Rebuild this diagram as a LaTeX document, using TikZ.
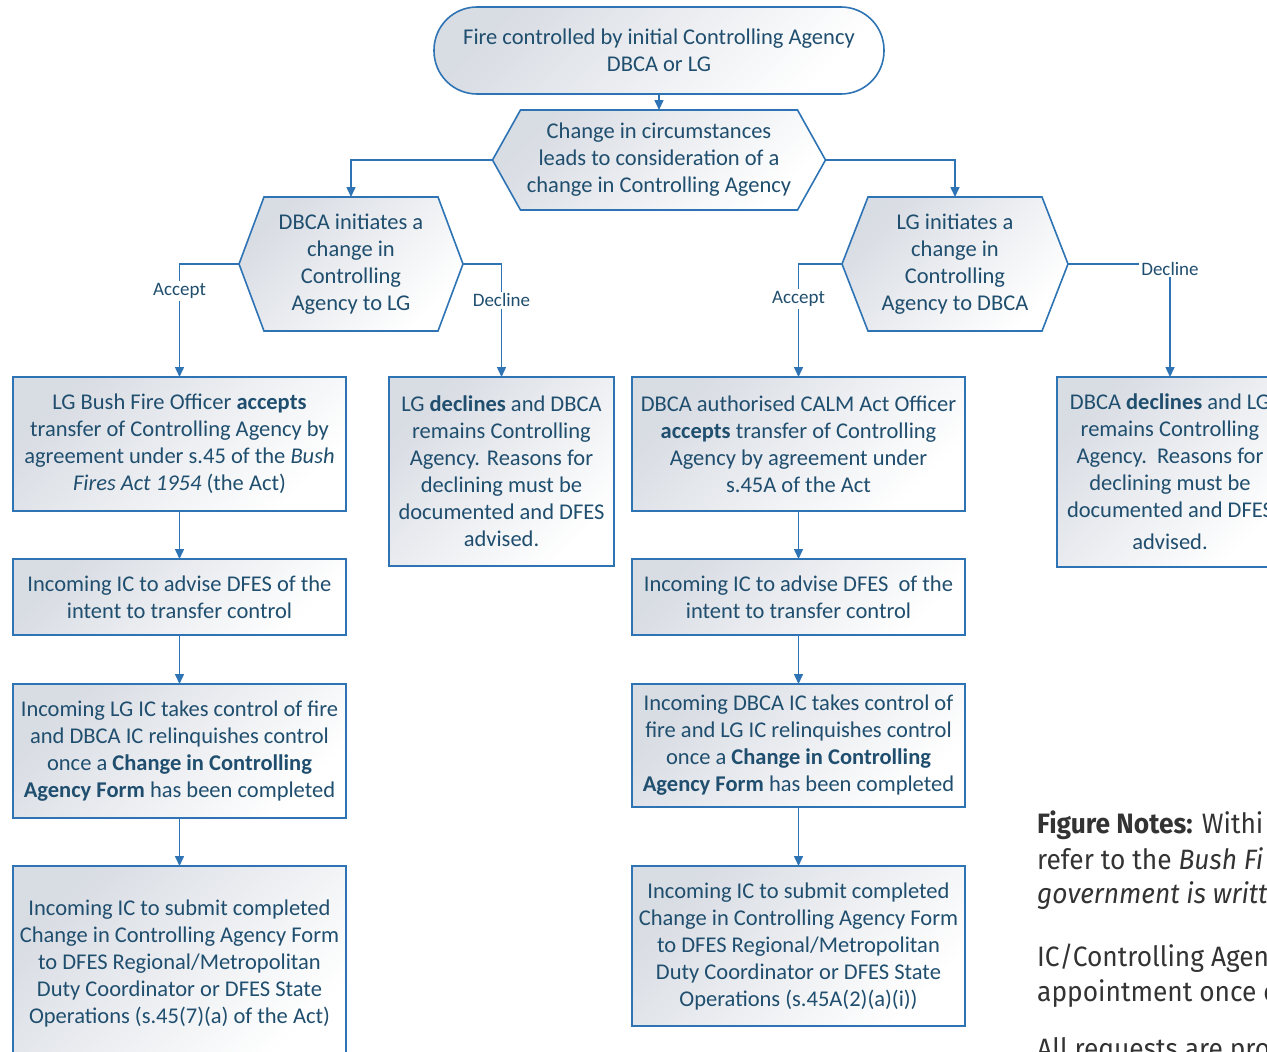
\documentclass[tikz,border=0pt]{standalone}
\usepackage{fontspec}
\setmainfont{Carlito}
\newfontfamily\notefont[FakeStretch=0.94]{Fira Sans}
\usetikzlibrary{arrows.meta,backgrounds}
\definecolor{bord}{HTML}{2E74B5}
\definecolor{txt}{HTML}{1F4E6E}
\definecolor{gradc}{HTML}{D8DCE3}
\definecolor{gradm}{HTML}{F3F4F7}
\definecolor{notec}{HTML}{333333}
\newcommand\hexbg[2]{\path[hexshape] ([xshift=#2]#1.north west) -- ([xshift=-#2]#1.north east) -- (#1.east) -- ([xshift=-#2]#1.south east) -- ([xshift=#2]#1.south west) -- (#1.west) -- cycle;}
\begin{document}
\begin{tikzpicture}[x=1pt,y=1pt,
 font=\fontsize{22.5}{27}\selectfont, text=txt,
 shd/.style={top color=gradc, middle color=gradm, bottom color=white, shading angle=45},
 box/.style={draw=bord, line width=1.6pt, shd, align=center, inner sep=0pt, outer sep=0pt},
 hexnode/.style={align=center, inner sep=0pt, outer sep=0pt},
 hexshape/.style={draw=bord, line width=1.6pt, shd, line join=miter},
 arr/.style={draw=bord, line width=1.5pt, -{Triangle[length=10pt,width=9pt]}},
 lbl/.style={fill=white, font=\fontsize{19}{21}\selectfont, inner sep=2pt},
 note/.style={font=\notefont\fontsize{28}{34}\selectfont, text=notec, inner sep=0pt, anchor=base west},
]
\useasboundingbox (0,0) rectangle (1267,-1052);
\clip (0,0) rectangle (1267,-1052);

\node[box, rounded corners=43pt, minimum width=450pt, minimum height=87pt] (term) at (659,-50.5) {Fire controlled by initial Controlling Agency\\DBCA or LG};
\node[hexnode, minimum width=333pt, minimum height=100pt] (h1) at (659,-160) {Change in circumstances\\leads to consideration of a\\change in Controlling Agency};
\node[hexnode, minimum width=224pt, minimum height=134pt] (h2) at (351,-264) {DBCA initiates a\\change in\\Controlling\\Agency to LG};
\node[hexnode, minimum width=226pt, minimum height=134pt] (h3) at (955,-264) {LG initiates a\\change in\\Controlling\\Agency to DBCA};
\begin{scope}[on background layer]
\fill[white] (0,0) rectangle (1267,-1052);
\hexbg{h1}{28}
\hexbg{h2}{25}
\hexbg{h3}{26}
\end{scope}

\node[box, minimum width=333pt, minimum height=134pt] (l1) at (179.5,-444) {LG Bush Fire Officer \textbf{accepts}\\transfer of Controlling Agency by\\agreement under s.45 of the \textit{Bush}\\\textit{Fires Act 1954} (the Act)};
\node[box, minimum width=333pt, minimum height=76pt] (l2) at (179.5,-597) {Incoming IC to advise DFES of the\\intent to transfer control};
\node[box, minimum width=333pt, minimum height=134pt] (l3) at (179.5,-751) {Incoming LG IC takes control of fire\\and DBCA IC relinquishes control\\once a \textbf{Change in Controlling}\\\textbf{Agency Form} has been completed};
\node[box, minimum width=333pt, minimum height=194pt] (l4) at (179.5,-963) {Incoming IC to submit completed\\Change in Controlling Agency Form\\to DFES Regional/Metropolitan\\Duty Coordinator or DFES State\\Operations (s.45(7)(a) of the Act)};
\node[box, minimum width=225pt, minimum height=189pt] (dl) at (501.5,-471.5) {LG \textbf{declines} and DBCA\\remains Controlling\\Agency. Reasons for\\declining must be\\documented and DFES\\advised.};

\node[box, minimum width=333pt, minimum height=134pt] (r1) at (798.5,-444) {DBCA authorised CALM Act Officer\\\textbf{accepts} transfer of Controlling\\Agency by agreement under\\s.45A of the Act};
\node[box, minimum width=333pt, minimum height=76pt] (r2) at (798.5,-597) {Incoming IC to advise DFES\ \ of the\\intent to transfer control};
\node[box, minimum width=333pt, minimum height=123pt] (r3) at (798.5,-745.5) {Incoming DBCA IC takes control of\\fire and LG IC relinquishes control\\once a \textbf{Change in Controlling}\\\textbf{Agency Form} has been completed};
\node[box, minimum width=333pt, minimum height=160pt] (r4) at (798.5,-946) {Incoming IC to submit completed\\Change in Controlling Agency Form\\to DFES Regional/Metropolitan\\Duty Coordinator or DFES State\\Operations (s.45A(2)(a)(i))};
\node[box, minimum width=226pt, minimum height=190pt] (dr) at (1170,-472) {DBCA \textbf{declines} and LG\\remains Controlling\\Agency.\ \ Reasons for\\declining must be\\documented and DFES\\[5pt]advised.};

\draw[arr] (term.south) -- (h1.north);
\draw[arr] (h1.west) -| (h2.north);
\draw[arr] (h1.east) -| (h3.north);
\draw[arr] (h2.west) -| node[lbl,pos=0.62]{Accept} (l1.north);
\draw[arr] (h2.east) -| node[lbl,pos=0.66]{Decline} (dl.north);
\draw[arr] (h3.west) -| node[lbl,pos=0.655]{Accept} (r1.north);
\draw[arr] (h3.east) -| node[lbl,pos=0.52]{Decline} (dr.north);
\draw[arr] (l1.south) -- (l2.north);
\draw[arr] (l2.south) -- (l3.north);
\draw[arr] (l3.south) -- (l4.north);
\draw[arr] (r1.south) -- (r2.north);
\draw[arr] (r2.south) -- (r3.north);
\draw[arr] (r3.south) -- (r4.north);

\node[note] (n1) at (1037,-833) {\textbf{Figure Notes:} Withi};
\node[note] (n2) at (1037,-869) {refer to the \textit{Bush Fi}};
\node[note] (n3) at (1037,-903) {\textit{government is writt}};
\node[note] (n4) at (1037,-966) {IC/Controlling Agenc};
\node[note] (n5) at (1037,-1001) {appointment once c};
\node[note] (n6) at (1037,-1058) {All requests are pro};
\end{tikzpicture}
\end{document}
